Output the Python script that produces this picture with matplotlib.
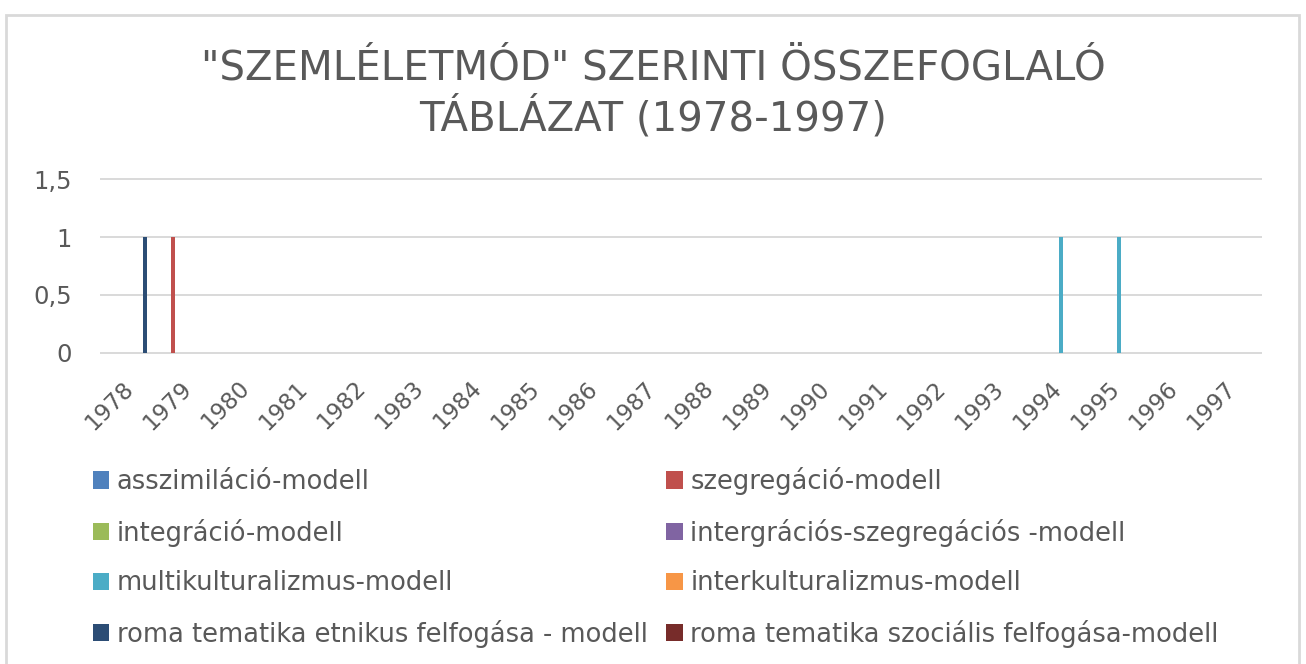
import matplotlib
matplotlib.use("Agg")
import matplotlib.pyplot as plt
from matplotlib.patches import Rectangle, Patch
import numpy as np

# ---- data ----
years = ["1978", "1979", "1980", "1981", "1982", "1983", "1984", "1985", "1986", "1987",
         "1988", "1989", "1990", "1991", "1992", "1993", "1994", "1995", "1996", "1997"]

series_names = [
    "asszimiláció-modell",
    "szegregáció-modell",
    "integráció-modell",
    "intergrációs-szegregációs -modell",
    "multikulturalizmus-modell",
    "interkulturalizmus-modell",
    "roma tematika etnikus felfogása - modell",
    "roma tematika szociális felfogása-modell",
]

asszimilacio = [0, 0, 0, 0, 0, 0, 0, 0, 0, 0, 0, 0, 0, 0, 0, 0, 0, 0, 0, 0]
szegregacio = [0, 1, 0, 0, 0, 0, 0, 0, 0, 0, 0, 0, 0, 0, 0, 0, 0, 0, 0, 0]
integracio = [0, 0, 0, 0, 0, 0, 0, 0, 0, 0, 0, 0, 0, 0, 0, 0, 0, 0, 0, 0]
intergr_szegr = [0, 0, 0, 0, 0, 0, 0, 0, 0, 0, 0, 0, 0, 0, 0, 0, 0, 0, 0, 0]
multikult = [0, 0, 0, 0, 0, 0, 0, 0, 0, 0, 0, 0, 0, 0, 0, 0, 1, 1, 0, 0]
interkult = [0, 0, 0, 0, 0, 0, 0, 0, 0, 0, 0, 0, 0, 0, 0, 0, 0, 0, 0, 0]
roma_etnikus = [1, 0, 0, 0, 0, 0, 0, 0, 0, 0, 0, 0, 0, 0, 0, 0, 0, 0, 0, 0]
roma_szocialis = [0, 0, 0, 0, 0, 0, 0, 0, 0, 0, 0, 0, 0, 0, 0, 0, 0, 0, 0, 0]

y_ticks = [0, 0.5, 1, 1.5]
y_tick_labels = ["0", "0,5", "1", "1,5"]

title_lines = ['"SZEMLÉLETMÓD" SZERINTI ÖSSZEFOGLALÓ', "TÁBLÁZAT (1978-1997)"]

colors = ["#4F81BD", "#C0504D", "#9BBB59", "#8064A2",
          "#4BACC6", "#F79646", "#2C4D75", "#772C2A"]

all_series = [asszimilacio, szegregacio, integracio, intergr_szegr,
              multikult, interkult, roma_etnikus, roma_szocialis]

# ---- figure ----
W, H = 1306, 664
fig = plt.figure(figsize=(W / 100, H / 100), dpi=100)
fig.patch.set_facecolor("white")
plt.rcParams["font.family"] = ["DejaVu Sans"]
text_color = "#595959"
grid_color = "#D9D9D9"

# outer border
fig.add_artist(Rectangle((6 / W, -0.05), (1299 - 6) / W, 1.05 - 14.5 / H,
                         transform=fig.transFigure, fill=False,
                         ec=grid_color, lw=2.0))

# title
fig.text(653 / W, 1 - 80 / H, title_lines[0], ha="center", va="baseline",
         fontsize=29, color=text_color)
fig.text(653 / W, 1 - 130 / H, title_lines[1], ha="center", va="baseline",
         fontsize=29, color=text_color)

# axes
left, right, bottom, top = 101, 1260.7, 352.7, 179.3
ax = fig.add_axes([left / W, 1 - bottom / H, (right - left) / W, (bottom - top) / H])

n = len(all_series)
slot = 0.1034
bar_w = 0.072
x = np.arange(len(years))
for i, (vals, col, name) in enumerate(zip(all_series, colors, series_names)):
    ax.bar(x + (i - (n - 1) / 2) * slot, vals, width=bar_w, color=col,
           label=name, zorder=3)

ax.set_xlim(-0.5, len(years) - 0.5)
ax.set_ylim(0, 1.5)
ax.set_yticks(y_ticks)
ax.set_yticklabels(y_tick_labels)
ax.set_xticks(x)
ax.set_xticklabels(years, rotation=45, rotation_mode="anchor", ha="right", va="center")

for s in ax.spines.values():
    s.set_visible(False)
ax.yaxis.grid(True, color=grid_color, lw=1.4)
ax.set_axisbelow(True)
for gl in ax.yaxis.get_gridlines():
    gl.set_clip_on(False)

ax.tick_params(axis="y", length=0, pad=21, labelsize=17.5, labelcolor=text_color)
ax.tick_params(axis="x", length=0, pad=23, labelsize=16.5, labelcolor=text_color)

# legend (row-wise order in two columns)
handles = [Patch(facecolor=c, edgecolor="none") for c in colors]
order = [0, 2, 4, 6, 1, 3, 5, 7]
leg = fig.legend([handles[k] for k in order], [series_names[k] for k in order],
                 ncol=2, loc="upper left",
                 bbox_to_anchor=(92.7 / W, 1 - 467 / H),
                 frameon=False, fontsize=18.5, borderaxespad=0, borderpad=0,
                 handlelength=0.65, handleheight=0.65, handletextpad=0.29,
                 columnspacing=0.72, labelspacing=0.92, labelcolor=text_color)

fig.savefig("out.png", dpi=100, facecolor="white")
